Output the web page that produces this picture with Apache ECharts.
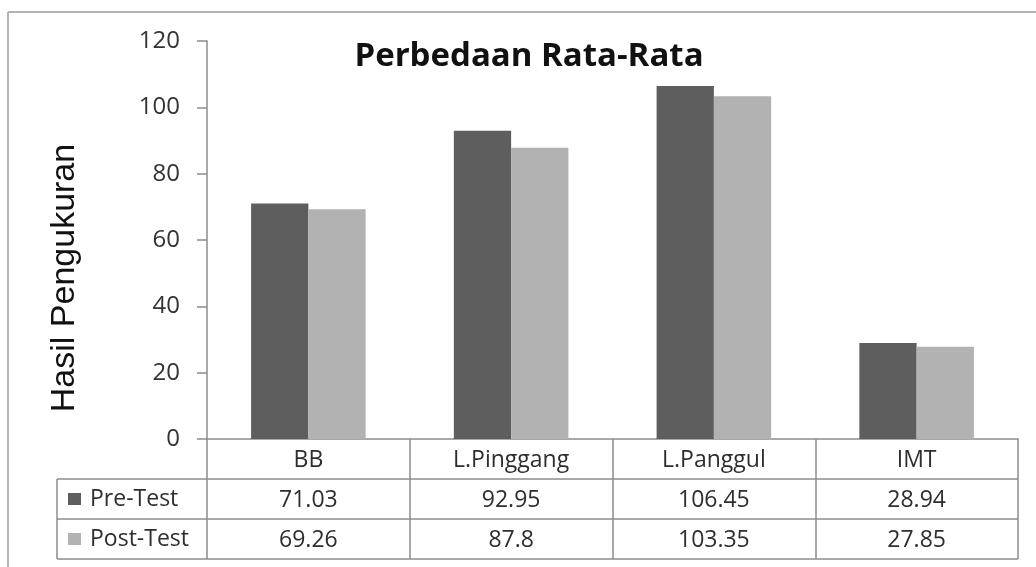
<!DOCTYPE html>
<html>
<head>
<meta charset="utf-8">
<style>
  html, body { margin: 0; padding: 0; background: #fff; overflow: hidden; }
  #chart { width: 1036px; height: 567px; }
</style>
<script src="https://cdn.jsdelivr.net/npm/echarts@6/dist/echarts.min.js"></script>
</head>
<body>
<div id="chart"></div>
<script>
// Measurements per category
const categories = ['BB', 'L.Pinggang', 'L.Panggul', 'IMT'];
const preTest = [71.03, 92.95, 106.45, 28.94];
const postTest = [69.26, 87.8, 103.35, 27.85];
const seriesNames = ['Pre-Test', 'Post-Test'];
const yTicks = { min: 0, max: 120, interval: 20 };

const chart = echarts.init(document.getElementById('chart'), null, { renderer: 'canvas' });

const FONT = '"Open Sans", "Noto Sans", sans-serif';
const LINE = '#8c8c8c';
const TXT = '#2e2e2e';

// Table geometry (data table under the plot)
const G = { left: 207, right: 18, top: 41, bottom: 128 };
const tableLeft = 57;
const plotRight = 1036 - G.right;
const zeroY = 567 - G.bottom;
const rowH = 40;

function valueAxis(idx, values) {
  return {
    type: 'category',
    data: categories,
    position: 'bottom',
    offset: rowH * idx,
    axisLine: { show: false },
    axisTick: { show: false },
    axisLabel: {
      margin: 10,
      fontFamily: FONT,
      fontSize: 23,
      color: TXT,
      formatter: (v, i) => String(values[i])
    }
  };
}

function rule(x1, y1, x2, y2, color, w) {
  return {
    type: 'line',
    shape: { x1, y1, x2, y2 },
    style: { stroke: color, lineWidth: w },
    silent: true
  };
}

chart.setOption({
  backgroundColor: '#ffffff',
  animation: false,
  title: {
    text: 'Perbedaan Rata-Rata',
    left: 524,
    top: 35,
    textAlign: 'center',
    textStyle: { fontFamily: FONT, fontSize: 33, fontWeight: 'bold', color: '#111' }
  },
  legend: {
    orient: 'vertical',
    left: 68,
    top: zeroY + rowH,
    padding: 0,
    itemGap: 0,
    itemWidth: 13,
    itemHeight: 12,
    icon: 'rect',
    selectedMode: false,
    textStyle: { fontFamily: FONT, fontSize: 23, color: TXT, lineHeight: rowH, padding: [0, 0, 0, 4] },
    data: seriesNames
  },
  grid: { left: G.left, right: G.right, top: G.top, bottom: G.bottom, containLabel: false },
  xAxis: [
    {
      type: 'category',
      data: categories,
      position: 'bottom',
      axisLine: { show: true, lineStyle: { color: LINE, width: 1.5 } },
      axisTick: { show: true, length: rowH * 3, lineStyle: { color: LINE, width: 1.5 } },
      axisLabel: { margin: 10, fontFamily: FONT, fontSize: 23, color: TXT }
    },
    valueAxis(1, preTest),
    valueAxis(2, postTest)
  ],
  yAxis: {
    type: 'value',
    min: yTicks.min,
    max: yTicks.max,
    interval: yTicks.interval,
    axisLine: { show: true, lineStyle: { color: LINE, width: 1.5 } },
    axisTick: { show: true, inside: false, length: 10, lineStyle: { color: LINE, width: 1.5 } },
    axisLabel: { margin: 27, fontFamily: FONT, fontSize: 24, color: '#333' },
    splitLine: { show: false }
  },
  series: [
    {
      name: seriesNames[0],
      type: 'bar',
      data: preTest,
      barGap: '0%',
      barCategoryGap: '43.5%',
      itemStyle: { color: '#5e5e5e' }
    },
    {
      name: seriesNames[1],
      type: 'bar',
      data: postTest,
      itemStyle: { color: '#b2b2b2' }
    }
  ],
  graphic: [
    // outer frame (top and left edges)
    rule(8, 12, 1036, 12, '#b4b4b4', 2),
    rule(8, 12, 8, 567, '#b4b4b4', 2),
    // table rules
    rule(tableLeft, zeroY + rowH, plotRight, zeroY + rowH, LINE, 1.5),
    rule(tableLeft, zeroY + rowH * 2, plotRight, zeroY + rowH * 2, LINE, 1.5),
    rule(tableLeft, zeroY + rowH * 3, plotRight, zeroY + rowH * 3, LINE, 1.5),
    rule(tableLeft, zeroY + rowH, tableLeft, zeroY + rowH * 3, LINE, 1.5),
    // vertical axis title
    {
      type: 'text',
      x: 65,
      y: 278,
      rotation: Math.PI / 2,
      style: {
        text: 'Hasil Pengukuran',
        fontFamily: '"Liberation Sans", Arial, sans-serif',
        fontSize: 34,
        fill: '#111',
        align: 'center',
        verticalAlign: 'middle'
      },
      silent: true
    }
  ]
});
</script>
</body>
</html>
